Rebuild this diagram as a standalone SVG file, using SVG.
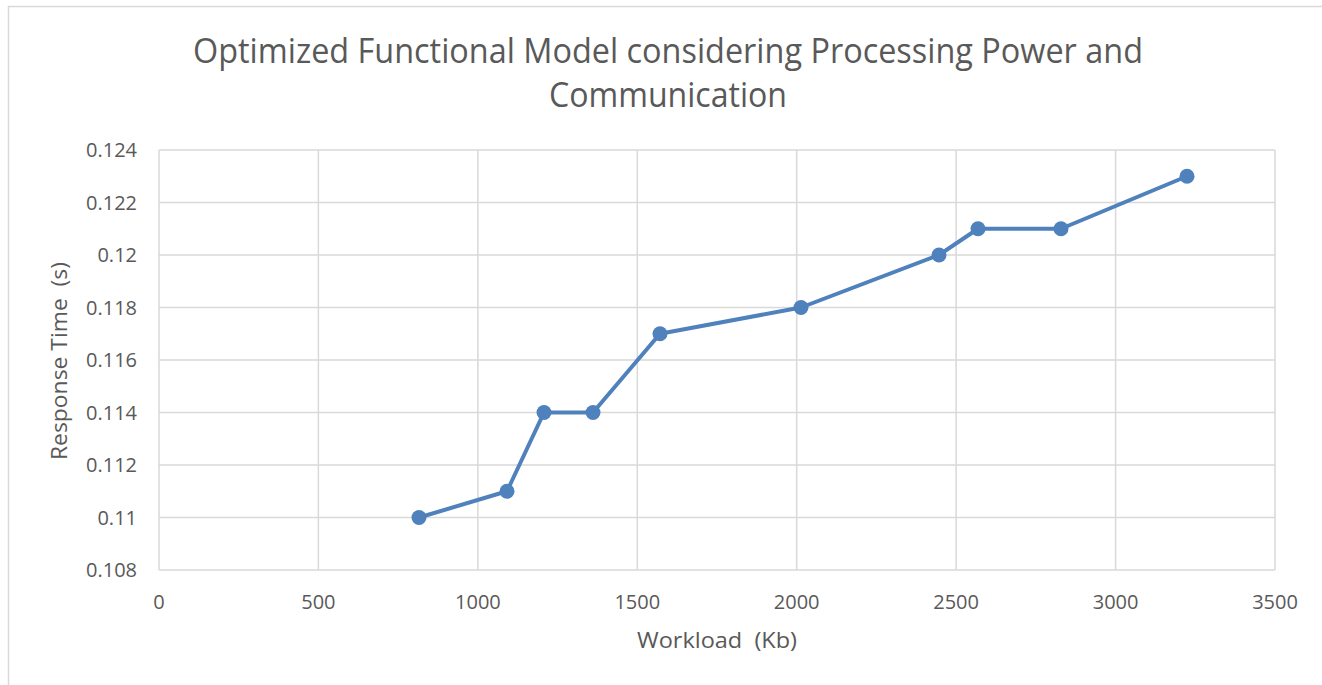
<svg xmlns="http://www.w3.org/2000/svg" width="1322" height="685" viewBox="0 0 1322 685">
<style>
.grid{stroke:#d9d9d9;stroke-width:1.5;fill:none}
.tick{font-family:"Open Sans","Liberation Sans",sans-serif;font-size:20px;fill:#595959}
.ytick{text-anchor:end}
.xtick{text-anchor:middle}
.title{font-family:"Open Sans","Liberation Sans",sans-serif;font-size:34px;fill:#595959;text-anchor:middle}
.axt{font-family:"Open Sans","Liberation Sans",sans-serif;font-size:22px;fill:#595959;text-anchor:middle;white-space:pre}
.series{stroke:#4f81bd;stroke-width:4;fill:none;stroke-linejoin:round}
.mk{fill:#4f81bd}
</style>
<rect x="0" y="0" width="1322" height="685" fill="#ffffff"/>
<rect x="8.5" y="6.5" width="1320" height="690" fill="none" stroke="#d9d9d9" stroke-width="1.5"/>
<g id="title">
<text class="title" x="668" y="63" textLength="950" lengthAdjust="spacingAndGlyphs">Optimized Functional Model considering Processing Power and</text>
<text class="title" x="668" y="107" textLength="238" lengthAdjust="spacingAndGlyphs">Communication</text>
</g>
<g id="gridlines">
<path class="grid" d="M159 150H1275M159 202.5H1275M159 255H1275M159 307.5H1275M159 360H1275M159 412.5H1275M159 465H1275M159 517.5H1275M159 570H1275"/>
<path class="grid" d="M159 150V570M318.4 150V570M477.9 150V570M637.3 150V570M796.7 150V570M956.1 150V570M1115.6 150V570M1275 150V570"/>
</g>
<g id="y-ticks">
<text class="tick ytick" x="137" y="157">0.124</text>
<text class="tick ytick" x="137" y="209.5">0.122</text>
<text class="tick ytick" x="137" y="262">0.12</text>
<text class="tick ytick" x="137" y="314.5">0.118</text>
<text class="tick ytick" x="137" y="367">0.116</text>
<text class="tick ytick" x="137" y="419.5">0.114</text>
<text class="tick ytick" x="137" y="472">0.112</text>
<text class="tick ytick" x="137" y="524.5">0.11</text>
<text class="tick ytick" x="137" y="577">0.108</text>
</g>
<g id="x-ticks">
<text class="tick xtick" x="159" y="609">0</text>
<text class="tick xtick" x="318.4" y="609">500</text>
<text class="tick xtick" x="477.9" y="609">1000</text>
<text class="tick xtick" x="637.3" y="609">1500</text>
<text class="tick xtick" x="796.7" y="609">2000</text>
<text class="tick xtick" x="956.1" y="609">2500</text>
<text class="tick xtick" x="1115.6" y="609">3000</text>
<text class="tick xtick" x="1275" y="609">3500</text>
</g>
<g id="axis-titles">
<text class="axt" xml:space="preserve" x="717" y="648" textLength="160" lengthAdjust="spacingAndGlyphs">Workload  (Kb)</text>
<text class="axt" xml:space="preserve" transform="translate(67 361) rotate(-90)" x="0" y="0" textLength="198" lengthAdjust="spacingAndGlyphs">Response Time  (s)</text>
</g>
<g id="series">
<polyline class="series" points="419,517.5 507,491.25 544,412.5 593,412.5 660,333.75 801,307.5 939,255 978,228.75 1061,228.75 1187,176.25"/>
<circle class="mk" cx="419" cy="517.5" r="7.5"/>
<circle class="mk" cx="507" cy="491.25" r="7.5"/>
<circle class="mk" cx="544" cy="412.5" r="7.5"/>
<circle class="mk" cx="593" cy="412.5" r="7.5"/>
<circle class="mk" cx="660" cy="333.75" r="7.5"/>
<circle class="mk" cx="801" cy="307.5" r="7.5"/>
<circle class="mk" cx="939" cy="255" r="7.5"/>
<circle class="mk" cx="978" cy="228.75" r="7.5"/>
<circle class="mk" cx="1061" cy="228.75" r="7.5"/>
<circle class="mk" cx="1187" cy="176.25" r="7.5"/>
</g>
</svg>
